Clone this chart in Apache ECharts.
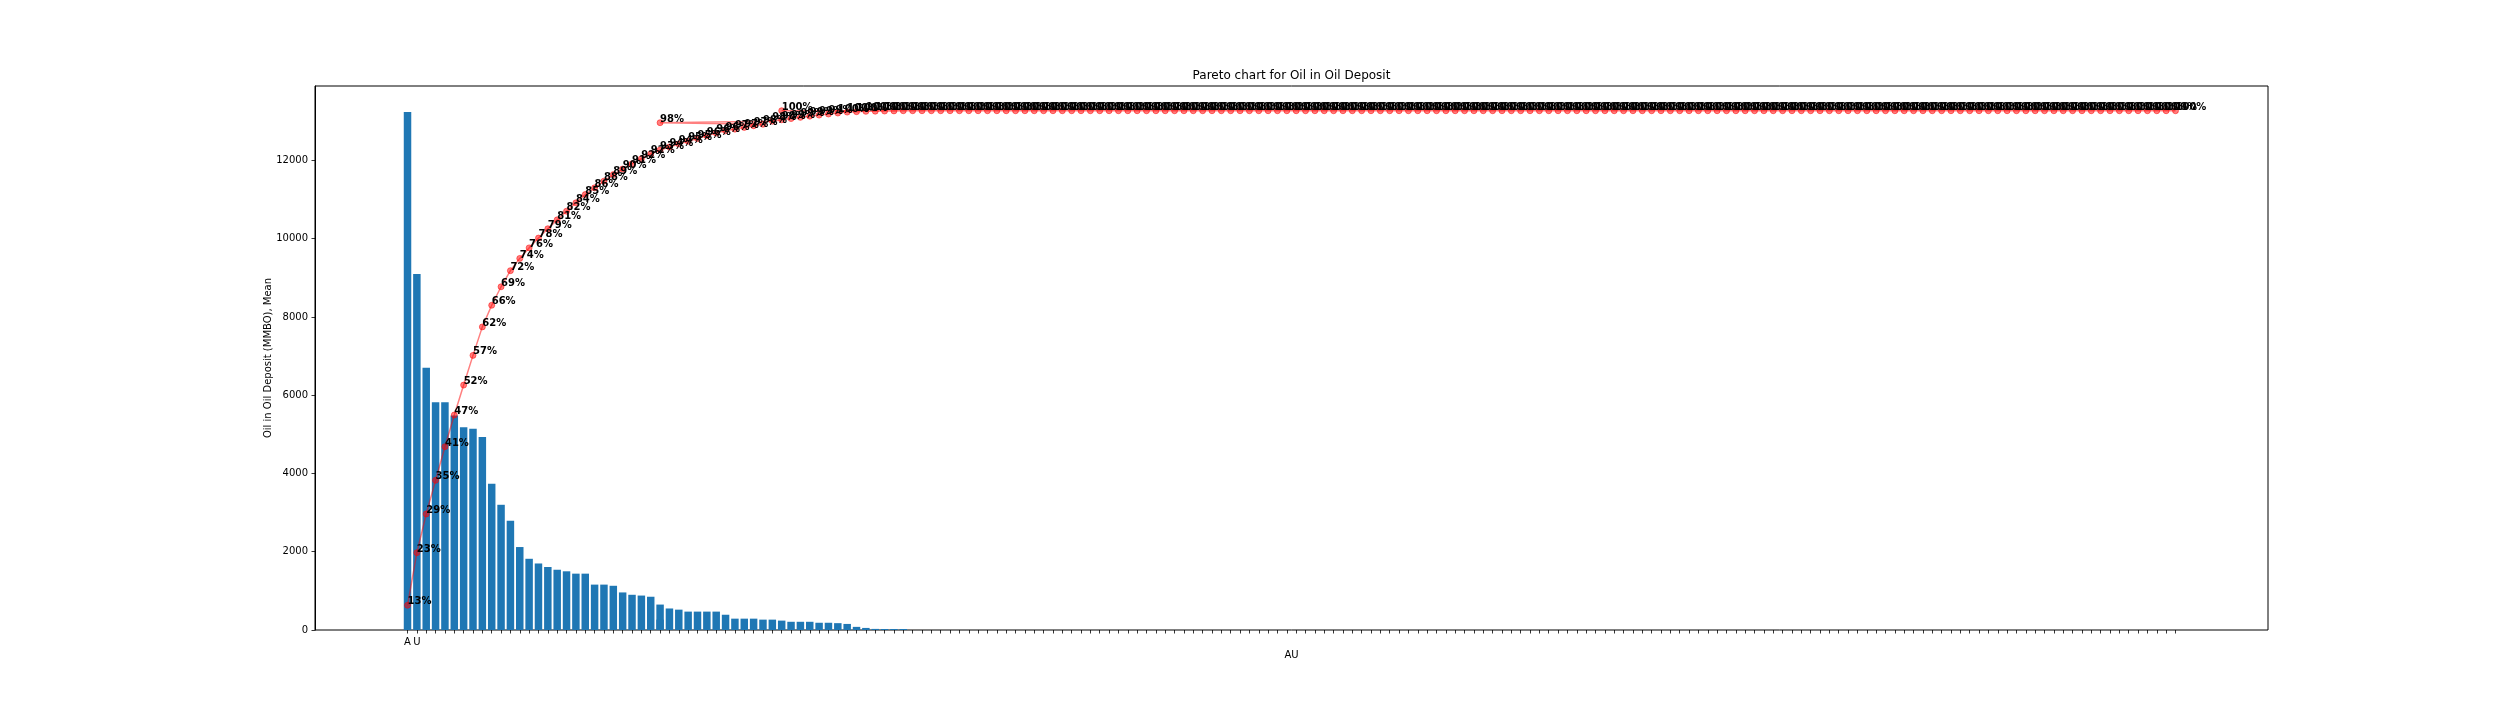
<!DOCTYPE html>
<html>
<head>
<meta charset="utf-8">
<script src="https://cdn.jsdelivr.net/npm/echarts@6/dist/echarts.min.js"></script>
<style>
html,body{margin:0;padding:0;background:#fff;}
#chart{width:2520px;height:720px;}
</style>
</head>
<body>
<div id="chart"></div>
<script>
// ---------------- data ----------------
const chartTitle = 'Pareto chart for Oil in Oil Deposit';
const yAxisName = 'Oil in Oil Deposit (MMBO), Mean';
const xAxisName = 'AU';
const tickLabels = ['A', 'U'];
const yTickStep = 2000;

// values of the items, in Pareto (plotting) order
const itemValues = [
  13240, 9100, 6700, 5820, 5820, 5480, 5180, 5140, 4930, 3740,
  3200, 2790, 2120, 1820, 1700, 1610, 1540, 1500, 1440, 1440,
  1160, 1160, 1130, 960, 900, 880, 850, 650, 550, 520,
  470, 470, 470, 470, 390, 290, 290, 290, 265, 265,
  265, 240, 210, 210, 210, 185, 185, 175, 155, 80,
  53, 28, 26, 26, 26,
  0,0,0,0,0,0,0,0,0,0,
  0,0,0,0,0,0,0,0,0,0,
  0,0,0,0,0,0,0,0,0,0,
  0,0,0,0,0,0,0,0,0,0,
  0,0,0,0,0,0,0,0,0,0,
  0,0,0,0,0,0,0,0,0,0,
  0,0,0,0,0,0,0,0,0,0,
  0,0,0,0,0,0,0,0,0,0,
  0,0,0,0,0,0,0,0,0,0,
  0,0,0,0,0,0,0,0,0,0,
  0,0,0,0,0,0,0,0,0,0,
  0,0,0,0,0,0,0,0,0,0,
  0,0,0,0,0,0,0,0,0,0,
  0,0,0,0,0,0,0
];
// items whose category label repeats an earlier category: [item index, category slot]
const repeatedItems = [[39, 27], [191, 40]];

// ---------------- derived ----------------
const repeatMap = new Map(repeatedItems);
let slotCounter = 0;
const itemSlot = itemValues.map((v, i) => repeatMap.has(i) ? repeatMap.get(i) : slotCounter++);
const categoryCount = slotCounter;
const categories = Array.from({length: categoryCount}, (_, i) => String(i));

const total = itemValues.reduce((a, b) => a + b, 0);
let running = 0;
const cumPct = itemValues.map(v => { running += v; return running / total * 100; });

const yMax = Math.max(...itemValues) * 1.05;
const pLo = Math.min(...cumPct), pHi = Math.max(...cumPct);
const pPad = (pHi - pLo) * 0.05;

// ---------------- layout (matplotlib-like) ----------------
const frameLeft = 315, frameTop = 86, frameW = 1953, frameH = 544;
const dataSpan = categoryCount - 0.2;              // bars are 0.8 wide
const band = frameW / (1.1 * dataSpan);
const firstCenter = frameLeft + (0.4 + 0.05 * dataSpan) * band;
const innerLeft = firstCenter - band / 2;
const innerW = band * categoryCount;

const FONT = 'DejaVu Sans';
const chart = echarts.init(document.getElementById('chart'), null, {renderer: 'canvas'});

const option = {
  animation: false,
  backgroundColor: '#ffffff',
  title: {
    text: chartTitle,
    left: frameLeft + frameW / 2,
    top: 70,
    textAlign: 'center',
    padding: 0,
    textStyle: {fontFamily: FONT, fontSize: 12, fontWeight: 'normal', color: '#000'}
  },
  grid: [
    {left: frameLeft, top: frameTop, width: frameW, height: frameH,
     show: true, borderColor: '#000', borderWidth: 1, backgroundColor: 'transparent', containLabel: false},
    {left: innerLeft, top: frameTop, width: innerW, height: frameH, containLabel: false}
  ],
  xAxis: [
    {
      gridIndex: 0, type: 'value', min: 0, max: 1,
      axisLine: {show: false}, axisTick: {show: false}, axisLabel: {show: false}, splitLine: {show: false},
      name: xAxisName, nameLocation: 'middle', nameGap: 20, nameMoveOverlap: false,
      nameTextStyle: {fontFamily: FONT, fontSize: 10, color: '#000'}
    },
    {
      gridIndex: 1, type: 'category', data: categories, boundaryGap: true,
      axisLine: {show: false},
      axisTick: {show: true, alignWithLabel: true, interval: 0, length: 3.5, lineStyle: {color: '#000', width: 0.8}},
      axisLabel: {
        interval: 0, margin: 7, color: '#000', fontFamily: FONT, fontSize: 10,
        formatter: (v, i) => tickLabels[i] || ''
      },
      splitLine: {show: false}
    }
  ],
  yAxis: [
    {
      gridIndex: 0, type: 'value', min: 0, max: yMax, interval: yTickStep,
      axisLine: {show: true, lineStyle: {color: '#000', width: 1}},
      axisTick: {show: true, length: 3.5, lineStyle: {color: '#000', width: 0.8}},
      axisLabel: {margin: 7, showMaxLabel: false, color: '#000', fontFamily: FONT, fontSize: 10,
                  formatter: (v) => String(Math.round(v))},
      splitLine: {show: false},
      name: yAxisName, nameLocation: 'middle', nameGap: 42, nameMoveOverlap: false,
      nameTextStyle: {fontFamily: FONT, fontSize: 10, color: '#000'}
    },
    {gridIndex: 1, type: 'value', min: 0, max: yMax, show: false, splitLine: {show: false}},
    {gridIndex: 1, type: 'value', min: pLo - pPad, max: pHi + pPad, show: false, splitLine: {show: false}}
  ],
  series: [
    {
      type: 'bar', xAxisIndex: 1, yAxisIndex: 1,
      data: itemValues.map((v, i) => [itemSlot[i], v]),
      barWidth: '80%',
      itemStyle: {color: '#1f77b4'},
      z: 2
    },
    {
      type: 'line', xAxisIndex: 1, yAxisIndex: 2,
      data: cumPct.map((p, i) => [itemSlot[i], p]),
      symbol: 'circle', symbolSize: 6, showAllSymbol: true,
      lineStyle: {color: 'rgba(255,0,0,0.5)', width: 1.5},
      itemStyle: {color: 'rgba(255,0,0,0.5)', borderColor: 'rgba(255,0,0,0.5)', borderWidth: 1},
      label: {
        show: true,
        position: ['50%', '0%'],
        align: 'left', verticalAlign: 'middle',
        formatter: (p) => Math.round(p.value[1]) + '%',
        fontFamily: FONT, fontSize: 10, fontWeight: 'bold', color: '#000'
      },
      labelLayout: {hideOverlap: false},
      z: 3
    }
  ]
};
chart.setOption(option);
</script>
</body>
</html>
